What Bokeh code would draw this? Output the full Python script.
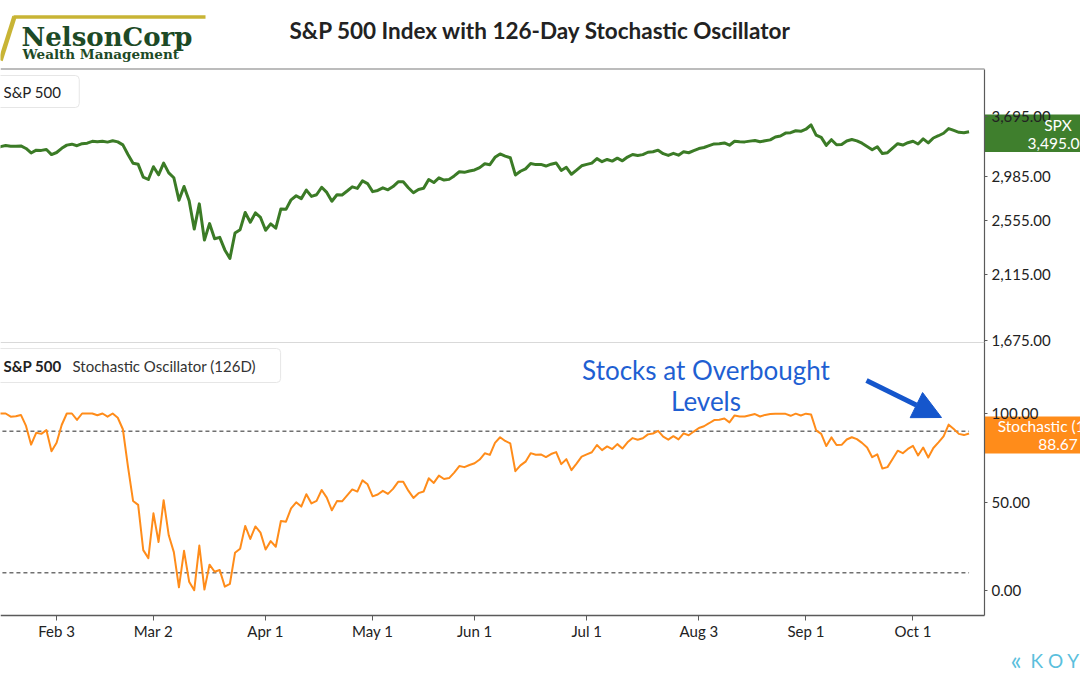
import math
import pandas as pd
from bokeh.plotting import figure
from bokeh.models import (Range1d, FixedTicker, NumeralTickFormatter, Label, LinearAxis, LogAxis,
                          LogScale, Arrow, NormalHead, Grid)
from bokeh.embed import file_html
from bokeh.resources import INLINE

# ---------------- data ----------------
HOLIDAYS = ["2020-01-20", "2020-02-17", "2020-04-10", "2020-05-25", "2020-07-03", "2020-09-07"]
dates = pd.bdate_range("2020-01-15", "2020-10-16", freq="C", holidays=HOLIDAYS)

spx_jan = [3289.29, 3316.81, 3329.62, 3320.79, 3321.75, 3325.54, 3295.47, 3243.63, 3276.24, 3273.40, 3283.66, 3225.52]
spx_feb = [3248.92, 3297.59, 3334.69, 3345.78, 3327.71, 3352.09, 3357.75, 3379.45, 3373.94, 3380.16, 3370.29, 3386.15,
           3373.23, 3337.75, 3225.89, 3128.21, 3116.39, 2978.76, 2954.22]
spx_mar = [3090.23, 3003.37, 3130.12, 3023.94, 2972.37, 2746.56, 2882.23, 2741.38, 2480.64, 2711.02, 2386.13, 2529.19,
           2398.10, 2409.39, 2304.92, 2237.40, 2447.33, 2475.56, 2630.07, 2541.47, 2626.65, 2584.59]
spx_apr = [2470.50, 2526.90, 2488.65, 2663.68, 2659.41, 2749.98, 2789.82, 2761.63, 2846.06, 2783.36, 2799.55, 2874.56,
           2823.16, 2736.56, 2799.31, 2797.80, 2836.74, 2878.48, 2863.39, 2939.51, 2912.43]
spx_may = [2830.71, 2842.74, 2868.44, 2848.42, 2881.19, 2929.80, 2930.32, 2870.12, 2820.00, 2852.50, 2863.70, 2953.91,
           2922.94, 2971.61, 2948.51, 2955.45, 2991.77, 3036.13, 3029.73, 3044.31]
spx_jun = [3055.73, 3080.82, 3122.87, 3112.35, 3193.93, 3232.39, 3207.18, 3190.14, 3002.10, 3041.31, 3066.59, 3124.74,
           3113.49, 3115.34, 3097.74, 3117.86, 3131.29, 3050.33, 3083.76, 3009.05, 3053.24, 3100.29]
spx_jul = [3115.86, 3130.01, 3179.72, 3145.32, 3169.94, 3152.05, 3185.04, 3155.22, 3197.52, 3226.56, 3215.57, 3224.73,
           3251.84, 3257.30, 3276.02, 3235.66, 3215.63, 3239.41, 3218.44, 3258.44, 3246.22, 3271.12]
spx_aug = [3294.61, 3306.51, 3327.77, 3349.16, 3351.28, 3360.47, 3333.69, 3380.35, 3373.43, 3372.85, 3381.99, 3389.78,
           3374.85, 3385.51, 3397.16, 3431.28, 3443.62, 3478.73, 3484.55, 3508.01, 3500.31]
spx_sep = [3526.65, 3580.84, 3455.06, 3426.96, 3331.84, 3398.96, 3339.19, 3340.97, 3383.54, 3401.20, 3385.49, 3357.01,
           3319.47, 3281.06, 3315.57, 3236.92, 3246.59, 3298.46, 3351.60, 3335.47, 3363.00]
spx_oct = [3380.80, 3348.42, 3408.60, 3360.97, 3419.44, 3446.83, 3477.14, 3534.22, 3511.93, 3488.67, 3483.34, 3495.00]

sto_jan = [100, 100, 100, 98.2, 98.4, 99.2, 93.0, 82.4, 89.1, 88.5, 90.6, 78.7]
sto_feb = [83.5, 93.5, 100, 100, 96.4, 100, 100, 100, 99.0, 100, 98.2, 100, 97.6, 91.1, 70.0, 50.6, 48.4, 22.8, 18.3]
sto_mar = [43.6, 27.4, 51.0, 31.2, 21.7, 1.8, 22.4, 5.0, 0.2, 25.4, 0.5, 14.6, 10.6, 11.6, 2.2, 3.8, 21.3, 23.6,
           36.5, 29.1, 36.2, 32.7]
sto_apr = [23.2, 27.9, 24.7, 39.3, 38.9, 46.4, 49.8, 47.4, 54.4, 49.2, 50.6, 56.8, 52.5, 45.3, 50.5, 50.4, 53.7,
           57.1, 55.9, 62.2, 60.0]
sto_may = [53.2, 54.2, 56.3, 54.6, 57.4, 61.4, 61.5, 56.4, 52.3, 55.0, 55.9, 63.4, 60.8, 64.9, 63.0, 63.5, 66.6,
           70.3, 69.7, 70.9]
sto_jun = [71.9, 74.0, 77.5, 76.6, 83.4, 86.6, 84.5, 83.1, 67.4, 70.7, 72.8, 77.6, 76.7, 76.9, 75.4, 77.1, 78.2,
           71.4, 74.2, 68.0, 71.7, 75.6]
sto_jul = [76.9, 78.1, 82.2, 79.3, 81.4, 79.9, 82.7, 80.2, 83.7, 86.1, 85.2, 86.0, 88.2, 88.7, 90.2, 86.9, 85.2,
           87.2, 85.4, 88.8, 87.7, 89.8]
sto_aug = [91.8, 92.8, 94.5, 96.3, 96.5, 97.2, 95.0, 98.9, 98.3, 98.3, 99.0, 99.7, 98.3, 99.2, 99.7, 99.9, 99.9,
           99.8, 98.7, 99.9, 98.9]
sto_sep = [99.9, 99.5, 90.5, 88.5, 81.6, 86.5, 82.2, 82.3, 85.3, 86.6, 85.5, 83.4, 80.8, 75.3, 76.9, 68.9, 69.7,
           74.3, 79.0, 77.6, 80.0]
sto_oct = [81.7, 76.3, 80.8, 75.1, 80.5, 83.7, 87.1, 93.7, 91.2, 88.5, 87.8, 88.67]

spx = spx_jan + spx_feb + spx_mar + spx_apr + spx_may + spx_jun + spx_jul + spx_aug + spx_sep + spx_oct
stoch = sto_jan + sto_feb + sto_mar + sto_apr + sto_may + sto_jun + sto_jul + sto_aug + sto_sep + sto_oct

TICK_DATES = ["2020-02-03", "2020-03-02", "2020-04-01", "2020-05-01", "2020-06-01", "2020-07-01",
              "2020-08-03", "2020-09-01", "2020-10-01"]
TICK_LABELS = ["Feb 3", "Mar 2", "Apr 1", "May 1", "Jun 1", "Jul 1", "Aug 3", "Sep 1", "Oct 1"]
SPX_TICKS = [1675, 2115, 2555, 2985, 3695]
STO_TICKS = [0, 50, 100]
OVERBOUGHT = 90
OVERSOLD = 10
SPX_LAST_TEXT = "SPX\n3,495.00"
STO_LAST_TEXT = "Stochastic (126D)\n88.67"

n = min(len(dates), len(spx), len(stoch))
date_list = list(dates[:n])
base = date_list.index(pd.Timestamp("2020-02-03"))
xs = [i - base for i in range(n)]
spx = spx[:n]
stoch = stoch[:n]
tick_pos = [date_list.index(pd.Timestamp(d)) - base for d in TICK_DATES]

# ---------------- styling / layout (page pixels -> data) ----------------
FONT = "Lato"
GREEN = "#3b7b26"
ORANGE = "#ff8c1a"
BLUE = "#1f5fd2"
AXIS = "#5a5a5a"
TEXT = "#222222"
W, H = 1080, 675
FRAME_R = 984             # x of the right axis line
TOP_Y0, TOP_Y1 = 69, 342   # top panel
BOT_Y0, BOT_Y1 = 342, 615  # bottom panel

X0, PXD = 56.1, 5.0975


def xd(px):
    return (px - X0) / PXD


def yt(py):
    return math.exp(8.21474 - (py - 115.5) / 283.8)


def yb(py):
    return (590.0 - py) / 1.77


p = figure(width=W, height=H, x_range=Range1d(xd(0), xd(W)), y_range=Range1d(yb(H), yb(0)),
           x_axis_location=None, y_axis_location=None, toolbar_location=None,
           output_backend="svg", min_border=0)
p.outline_line_color = None
p.background_fill_color = "white"
p.border_fill_color = "white"
p.extra_y_ranges = {"spx": Range1d(yt(H), yt(0)), "px": Range1d(H, 0)}
p.extra_y_scales = {"spx": LogScale()}
p.extra_x_ranges = {"px": Range1d(0, W)}
PX = dict(x_range_name="px", y_range_name="px")

# ---------------- header / frames (decoration in page pixels) ----------------
GOLD = "#c8b435"
p.line([13, 205], [16.5, 16.5], line_color=GOLD, line_width=3.5, **PX)
p.line([14, 0], [16, 60], line_color=GOLD, line_width=4.5, **PX)
p.line([0, FRAME_R], [TOP_Y0 - 0.5, TOP_Y0 - 0.5], line_color="#7a7a7a", line_width=1.2, **PX)
p.line([0, FRAME_R], [BOT_Y0, BOT_Y0], line_color="#d9d9d9", line_width=1.2, **PX)
p.quad(left=[FRAME_R], right=[W], top=[114], bottom=[151.5], fill_color="#3f7f2d",
       line_color=None, level="underlay", **PX)
p.quad(left=[FRAME_R], right=[W], top=[416], bottom=[453], fill_color=ORANGE,
       line_color=None, level="underlay", **PX)

p.add_layout(Label(x=21, y=36, text="NelsonCorp", text_font="DejaVu Serif",
                   text_font_style="bold", text_font_size="26px", text_color="#1d4a26",
                   text_baseline="middle", **PX))
p.add_layout(Label(x=22, y=53.5, text="Wealth Management", text_font="DejaVu Serif",
                   text_font_style="bold", text_font_size="13.5px", text_color="#1d4a26",
                   text_baseline="middle", **PX))
p.add_layout(Label(x=540, y=30, text="S&P 500 Index with 126-Day Stochastic Oscillator",
                   text_font=FONT, text_font_style="bold", text_font_size="22.5px",
                   text_color=TEXT, text_align="center", text_baseline="middle", **PX))

# ---------------- data lines ----------------
p.line(xs, spx, y_range_name="spx", line_color=GREEN, line_width=3, line_join="round")
p.line([xs[0], xs[-1]], [OVERBOUGHT, OVERBOUGHT], line_color="#707070", line_width=1.5, line_dash="4 3")
p.line([xs[0], xs[-1]], [OVERSOLD, OVERSOLD], line_color="#707070", line_width=1.5, line_dash="4 3")
p.line(xs, stoch, line_color=ORANGE, line_width=2, line_join="round")


# ---------------- axes ----------------
def style_yaxis(ax, ticks, fmt):
    ax.ticker = FixedTicker(ticks=ticks)
    ax.formatter = NumeralTickFormatter(format=fmt)
    ax.axis_line_color = AXIS
    ax.axis_line_width = 1.2
    ax.major_tick_line_color = AXIS
    ax.major_tick_out = 3
    ax.major_tick_in = 0
    ax.minor_tick_line_color = None
    ax.major_label_standoff = 4
    ax.major_label_text_font = FONT
    ax.major_label_text_font_size = "15px"
    ax.major_label_text_color = TEXT


spx_axis = LogAxis(y_range_name="spx", fixed_location=xd(FRAME_R), bounds=(yt(TOP_Y1), yt(TOP_Y0)))
style_yaxis(spx_axis, SPX_TICKS, "0,0.00")
p.add_layout(spx_axis, "right")

sto_axis = LinearAxis(fixed_location=xd(FRAME_R), bounds=(yb(BOT_Y1), yb(BOT_Y0)))
style_yaxis(sto_axis, STO_TICKS, "0.00")
p.add_layout(sto_axis, "right")

xa = LinearAxis(fixed_location=yb(BOT_Y1), bounds=(xd(0), xd(FRAME_R)))
xa.ticker = FixedTicker(ticks=tick_pos)
xa.major_label_overrides = {t: l for t, l in zip(tick_pos, TICK_LABELS)}
xa.axis_line_color = AXIS
xa.axis_line_width = 1.5
xa.major_tick_line_color = AXIS
xa.major_tick_out = 5
xa.major_tick_in = 0
xa.minor_tick_line_color = None
xa.major_label_standoff = 1
xa.major_label_text_font = FONT
xa.major_label_text_font_size = "15px"
xa.major_label_text_color = TEXT
p.add_layout(xa, "below")

# no grid lines
for r in list(p.center):
    if isinstance(r, Grid):
        r.visible = False

# ---------------- labels ----------------
p.add_layout(Label(x=-7, y=91, text="S&P 500", text_font=FONT,
                   text_font_size="15px", text_color=TEXT, text_baseline="middle",
                   background_fill_color="white", border_line_color="#e6e6e6",
                   padding=dict(left=10, right=18, top=7, bottom=7), border_radius=4, **PX))
p.add_layout(Label(x=-7, y=365, text="S&P 500", text_font=FONT,
                   text_font_style="bold", text_font_size="15px", text_color=TEXT,
                   text_baseline="middle", background_fill_color="white",
                   border_line_color="#e6e6e6",
                   padding=dict(left=10, right=219, top=8, bottom=8), border_radius=4, **PX))
p.add_layout(Label(x=72, y=365, text="Stochastic Oscillator (126D)", text_font=FONT,
                   text_font_size="15px", text_color="#333333", text_baseline="middle", **PX))

p.add_layout(Label(x=1057.5, y=133, text=SPX_LAST_TEXT, text_font=FONT,
                   text_font_size="15.5px", text_color="white", text_align="center",
                   text_baseline="middle", text_line_height=1.0, **PX))
p.add_layout(Label(x=1057.5, y=434.5, text=STO_LAST_TEXT, text_font=FONT,
                   text_font_size="15.5px", text_color="white", text_align="center",
                   text_baseline="middle", text_line_height=1.0, **PX))

p.add_layout(Label(x=705.5, y=369, text="Stocks at Overbought", text_font=FONT,
                   text_font_size="26px", text_color=BLUE, text_align="center",
                   text_baseline="middle", **PX))
p.add_layout(Label(x=705.5, y=400, text="Levels", text_font=FONT,
                   text_font_size="26px", text_color=BLUE, text_align="center",
                   text_baseline="middle", **PX))
p.add_layout(Arrow(x_start=866, y_start=380, x_end=941, y_end=417,
                   line_color="#1556cc", line_width=5,
                   end=NormalHead(size=28, fill_color="#1556cc", line_color="#1556cc"), **PX))

p.add_layout(Label(x=1010, y=659, text="«", text_font=FONT, text_font_size="26px",
                   text_color="#5bbfdd", text_baseline="middle", **PX))
p.add_layout(Label(x=1030, y=660, text="K O Y F I N", text_font=FONT, text_font_size="19px",
                   text_color="#5bbfdd", text_baseline="middle", **PX))

open("out.html", "w").write(file_html(p, INLINE))
